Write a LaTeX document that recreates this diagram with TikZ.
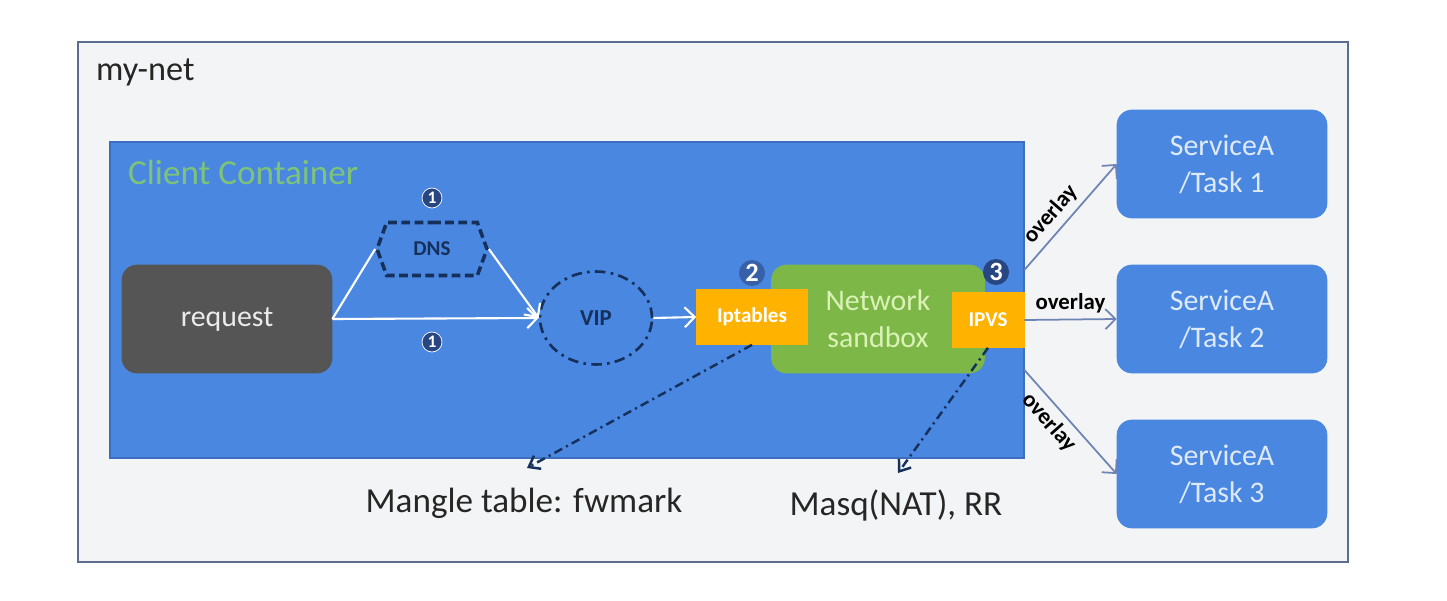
\documentclass[tikz,border=0pt]{standalone}
\usepackage{fontspec}
\setmainfont{Carlito}
\usepackage{xcolor}
\usepackage{tikz}
\usetikzlibrary{shapes,arrows.meta,positioning,calc}
\definecolor{netgray}{RGB}{243,244,245}
\definecolor{netedge}{RGB}{92,110,143}
\definecolor{clientblue}{RGB}{74,135,224}
\definecolor{clientedge}{RGB}{60,110,190}
\definecolor{clientgreen}{RGB}{126,196,120}
\definecolor{reqgray}{RGB}{85,85,85}
\definecolor{dnsnavy}{RGB}{22,48,92}
\definecolor{sandgreen}{RGB}{124,183,72}
\definecolor{sandtext}{RGB}{218,242,182}
\definecolor{tableorange}{RGB}{255,178,0}
\definecolor{svctext}{RGB}{222,234,250}
\definecolor{overlayblue}{RGB}{110,132,180}
\definecolor{numnavy}{RGB}{40,70,130}

\begin{document}
\begin{tikzpicture}[
        x=0.02cm, y=-0.02cm,
        every node/.style={font=\fontsize{17}{21}\selectfont},
        bigbox/.style={draw, rounded corners=0.3cm, minimum width=4.2cm, minimum height=2.16cm, align=center},
        svcbox/.style={bigbox, draw=clientblue, fill=clientblue, text=svctext},
        tablebox/.style={draw=tableorange, fill=tableorange, text=white, minimum height=1.1cm, font=\fontsize{12}{14}\selectfont\bfseries},
        numc/.style={circle, draw=white, fill=numnavy, text=white, inner sep=0pt, minimum size=0.4cm, font=\fontsize{10}{10}\selectfont\bfseries},
        bignum/.style={numc, minimum size=0.52cm, draw=none, font=\fontsize{15}{15}\selectfont\bfseries},
        link/.style={draw=white, line width=1.2pt, -{Straight Barb[length=2mm,width=4mm]}},
        note/.style={draw=dnsnavy, line width=1.4pt, dash pattern=on 5pt off 2.5pt on 1.2pt off 2.5pt, -{Straight Barb[length=2mm,width=3mm]}},
        overlay/.style={draw=overlayblue, line width=1pt, -{Straight Barb[length=2mm,width=4mm]}},
        tag/.style={font=\fontsize{13}{15}\selectfont\bfseries, text=black},
        caption/.style={font=\fontsize{20}{24}\selectfont, text=black!85},
    ]
        \fill[white] (0,0) rectangle (1447,601);
        \useasboundingbox (0,0) rectangle (1447,601);

        \draw[netedge, fill=netgray, line width=1.2pt] (78,42) rectangle (1348,562);
        \node[anchor=west, font=\fontsize{19.5}{22}\selectfont, text=black!85] (mynet) at (90,72) {my-net};

        \draw[clientedge, fill=clientblue, line width=0.8pt] (110,142) rectangle (1024,458);
        \node[anchor=west, font=\fontsize{20}{24}\selectfont, text=clientgreen] (client) at (122,172) {Client Container};

        \node[bigbox, draw=reqgray, fill=reqgray, text=white!92!black] (req) at (227,319) {request};

        \node[signal, signal to=west and east, signal pointer angle=140, draw=dnsnavy, line width=2pt,
              dash pattern=on 5pt off 2.5pt,
              minimum width=2.2cm, minimum height=1.06cm, inner sep=0pt, text=dnsnavy,
              font=\fontsize{12}{14}\selectfont\bfseries] (dns) at (432,249) {DNS};
        \node[ellipse, draw=dnsnavy, dash pattern=on 6pt off 3pt on 1.5pt off 3pt, line width=1.5pt,
              minimum width=2.24cm, minimum height=1.86cm,
              text=dnsnavy, font=\fontsize{13}{15}\selectfont\bfseries] (vip) at (596,318) {VIP};

        \node[bigbox, draw=sandgreen, fill=sandgreen, text=sandtext, minimum width=4.26cm] (sandbox) at (878,319) {Network\\sandbox};
        \node[tablebox, minimum width=2.22cm] (iptables) at (752,317) {Iptables};
        \node[tablebox, minimum width=1.44cm] (ipvs) at (988,320) {IPVS};

        \node[numc] (dnsnum) at (432,198) {1};
        \node[numc] (directnum) at (432,342) {1};
        \node[bignum, fill=numnavy!60!clientblue] (ipnum) at (752,273) {2};
        \node[bignum] (ipvsnum) at (996,272) {3};

        \node[svcbox] (task1) at (1222,164) {ServiceA\\/Task 1};
        \node[svcbox] (task2) at (1222,319) {ServiceA\\/Task 2};
        \node[svcbox] (task3) at (1222,474) {ServiceA\\/Task 3};

        \node[caption] (mangle) at (524,503) {Mangle table: fwmark};
        \node[caption] (masq) at (896,505) {Masq(NAT), RR};
        \coordinate (mangletip) at (527,468);
        \coordinate (masqtip) at (898,473);

        \draw[draw=white, line width=1.2pt] (req.east) -- (dns.west);
        \draw[link] (dns.east) -- (vip.west);
        \draw[link] (req.east) -- (vip.west);
        \draw[link] (vip.east) -- (iptables.west);

        \draw[note] (iptables.south) -- (mangletip);
        \draw[note] (ipvs.south) -- (masqtip);

        \draw[overlay] ([yshift=1cm]ipvs.east) -- node[tag, sloped, above, pos=0.42] {overlay} (task1.west);
        \draw[overlay] (ipvs.east) -- node[tag, above] {overlay} (task2.west);
        \draw[overlay] ([yshift=-1cm]ipvs.east) -- node[tag, sloped, below, pos=0.4] {overlay} (task3.west);
    \end{tikzpicture}
\end{document}
